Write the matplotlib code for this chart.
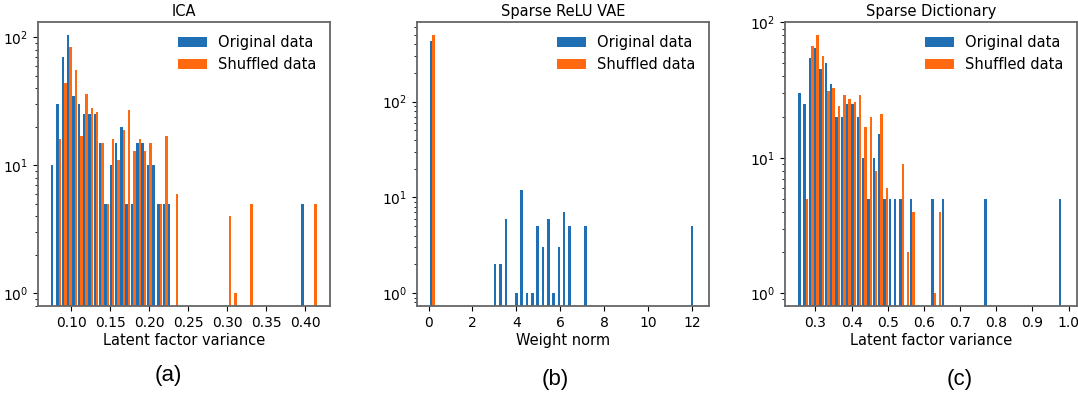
import matplotlib.pyplot as plt
from matplotlib.ticker import MultipleLocator, FormatStrFormatter
import numpy as np

# histogram counts, 50 bins per panel
ica_range = (0.0741, 0.415)
ica_original = [10, 30, 70, 105, 35, 30, 25, 25, 25, 15,
                5, 10, 15, 20, 5, 5, 15, 15, 10, 10,
                5, 5, 5, 0, 0, 0, 0, 0, 0, 0,
                0, 0, 0, 0, 0, 0, 0, 0, 0, 0,
                0, 0, 0, 0, 0, 0, 0, 5, 0, 0]
ica_shuffled = [0, 16, 44, 84, 56, 17, 36, 28, 26, 15,
                5, 16, 11, 19, 27, 13, 16, 13, 15, 0,
                5, 17, 0, 6, 0, 0, 0, 0, 0, 0,
                0, 0, 0, 4, 1, 0, 0, 5, 0, 0,
                0, 0, 0, 0, 0, 0, 0, 0, 0, 5]

vae_range = (0.057, 12.18)
vae_original = [435, 0, 0, 0, 0, 0, 0, 0, 0, 0,
                0, 0, 2, 2, 6, 0, 1, 12, 1, 1,
                5, 3, 6, 1, 3, 7, 5, 0, 0, 5,
                0, 0, 0, 0, 0, 0, 0, 0, 0, 0,
                0, 0, 0, 0, 0, 0, 0, 0, 0, 5]
vae_shuffled = [500] + [0] * 49

dict_range = (0.2514, 0.987)
dict_original = [30, 25, 55, 65, 45, 50, 35, 20, 20, 25,
                 25, 20, 10, 5, 10, 15, 5, 5, 5, 5,
                 0, 5, 0, 0, 0, 5, 0, 5, 0, 0,
                 0, 0, 0, 0, 0, 5, 0, 0, 0, 0,
                 0, 0, 0, 0, 0, 0, 0, 0, 0, 5]
dict_shuffled = [0, 5, 67, 81, 56, 31, 33, 24, 29, 27,
                 26, 29, 17, 20, 8, 21, 6, 0, 0, 9,
                 2, 4, 0, 0, 0, 1, 4, 0, 0, 0,
                 0, 0, 0, 0, 0, 0, 0, 0, 0, 0,
                 0, 0, 0, 0, 0, 0, 0, 0, 0, 0]

titles = ["ICA", "Sparse ReLU VAE", "Sparse Dictionary"]
xlabels = ["Latent factor variance", "Weight norm", "Latent factor variance"]
panel_tags = ["(a)", "(b)", "(c)"]
series_names = ["Original data", "Shuffled data"]
tick_steps = [0.05, 2, 0.1]
tick_formats = ["%.2f", "%d", "%.1f"]


def draw_panel(ax, data_range, original, shuffled, title, xlabel, step, fmt):
    edges = np.linspace(data_range[0], data_range[1], len(original) + 1)
    centers = (edges[:-1] + edges[1:]) / 2
    ax.hist([centers, centers], bins=edges, weights=[original, shuffled],
            log=True, rwidth=0.92, color=["#1f6fb4", "#ff6a10"],
            label=series_names)
    ax.xaxis.set_major_locator(MultipleLocator(step))
    ax.xaxis.set_major_formatter(FormatStrFormatter(fmt))
    ax.set_title(title, fontsize=10.5, pad=4)
    ax.set_xlabel(xlabel, fontsize=10.5, labelpad=2)
    ax.tick_params(labelsize=10)
    for spine in ax.spines.values():
        spine.set_color("0.4")
        spine.set_linewidth(1.3)
    ax.legend(loc="upper right", frameon=False, fontsize=10.5)


def main():
    fig = plt.figure(figsize=(10.78, 3.97), dpi=100)
    lefts = [0.035, 0.3866, 0.728]
    panels = [
        (ica_range, ica_original, ica_shuffled),
        (vae_range, vae_original, vae_shuffled),
        (dict_range, dict_original, dict_shuffled),
    ]
    tag_x = [0.156, 0.515, 0.89]
    tag_y = [0.055, 0.043, 0.043]
    for i, (rng, orig, shuf) in enumerate(panels):
        ax = fig.add_axes([lefts[i], 0.229, 0.271, 0.716])
        draw_panel(ax, rng, orig, shuf, titles[i], xlabels[i],
                   tick_steps[i], tick_formats[i])
        fig.text(tag_x[i], tag_y[i], panel_tags[i], ha="center", va="center",
                 fontsize=16, family="Liberation Sans")

    fig.savefig("out.png", dpi=100)


if __name__ == "__main__":
    main()
